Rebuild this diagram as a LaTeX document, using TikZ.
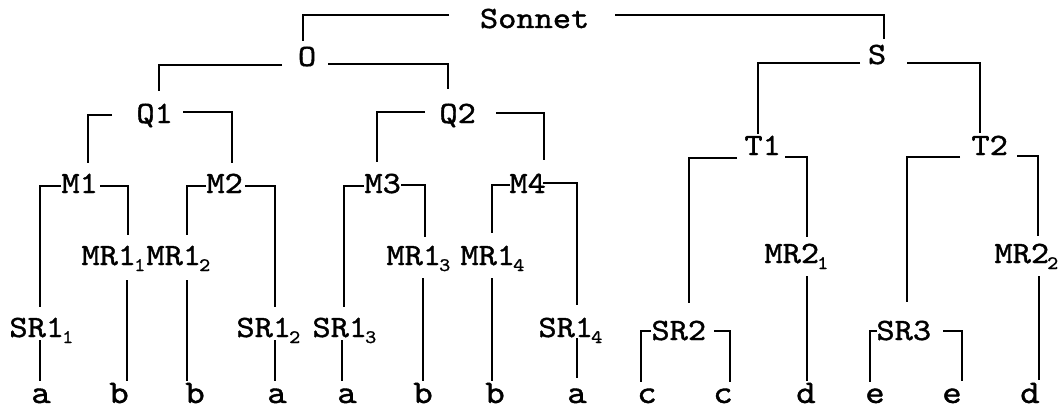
\documentclass[tikz,border=0pt]{standalone}
\usepackage{fontspec}
\usetikzlibrary{calc}
\newfontfamily\monofnt[FakeStretch=1.12,FakeBold=1.2]{lmmono10-regular.otf}
\newcommand\subs[1]{\kern-2pt\raisebox{-6pt}{\fontsize{19}{19}\selectfont #1}}
\newcommand\conn[4]{\draw ($(#1)+(#2)$) -| ($(#3)+(#4)$);}
\newcommand\vconn[4]{\draw ($(#1)+(#2)$) -- ($(#3)+(#4)$);}
\begin{document}
\begin{tikzpicture}[x=1pt,y=-1pt,
  lbl/.style={font=\monofnt\fontsize{31}{36}\selectfont, inner sep=0pt, text height=17pt, text depth=0pt, anchor=base west},
  leaf/.style={font=\monofnt\fontsize{33}{36}\selectfont, inner sep=0pt, text height=17pt, text depth=0pt, anchor=base},
  every path/.style={line width=1.9pt}]
\useasboundingbox (0,0) rectangle (1064,409);
% inner nodes
\node[lbl] (Sonnet) at (479,28) {Sonnet};
\node[lbl] (O) at (297,66) {O};
\node[lbl] (S) at (867,64) {S};
\node[lbl] (Q1) at (135.5,123) {Q1};
\node[lbl] (Q2) at (438.5,123) {Q2};
\node[lbl] (T1) at (743.5,155) {T1};
\node[lbl] (T2) at (970.5,155) {T2};
\node[lbl] (M1) at (60.5,193) {M1};
\node[lbl] (M2) at (205.5,193) {M2};
\node[lbl] (M3) at (363.5,193) {M3};
\node[lbl] (M4) at (508.5,193) {M4};
\node[lbl] (MRa) at (80.5,265) {MR1\subs{1}};
\node[lbl] (MRb) at (145.5,265) {MR1\subs{2}};
\node[lbl] (MRc) at (385.5,265) {MR1\subs{3}};
\node[lbl] (MRd) at (459.5,265) {MR1\subs{4}};
\node[lbl] (MRe) at (763.5,263) {MR2\subs{1}};
\node[lbl] (MRf) at (993.5,263) {MR2\subs{2}};
\node[lbl] (SRa) at (8.5,337) {SR1\subs{1}};
\node[lbl] (SRb) at (235.5,337) {SR1\subs{2}};
\node[lbl] (SRc) at (311.5,337) {SR1\subs{3}};
\node[lbl] (SRd) at (537.5,337) {SR1\subs{4}};
\node[lbl] (SR2) at (650.5,340) {SR2};
\node[lbl] (SR3) at (875.5,340) {SR3};
% leaves
\node[leaf] (la1) at (41,403) {a};
\node[leaf] (lb1) at (119,403) {b};
\node[leaf] (lb2) at (195,403) {b};
\node[leaf] (la2) at (277,403) {a};
\node[leaf] (la3) at (347,403) {a};
\node[leaf] (lb3) at (423,403) {b};
\node[leaf] (lb4) at (495,403) {b};
\node[leaf] (la4) at (577,403) {a};
\node[leaf] (lc1) at (647,403) {c};
\node[leaf] (lc2) at (723,403) {c};
\node[leaf] (ld1) at (806,403) {d};
\node[leaf] (le1) at (875,403) {e};
\node[leaf] (le2) at (952,403) {e};
\node[leaf] (ld2) at (1030,403) {d};
% brackets
\conn{Sonnet.base west}{-30,-13}{O.base west}{6,-25}
\conn{Sonnet.base west}{136,-13}{S.base west}{17,-25}
\conn{O.base west}{-15,-1}{Q1.base west}{23.5,-32}
\conn{O.base west}{31,-2}{Q2.base west}{9.5,-34}
\conn{Q1.base west}{-23.5,-8}{M1.base west}{27.5,-30}
\conn{Q1.base west}{47.5,-11}{M2.base west}{26.5,-30}
\conn{Q2.base west}{-13.5,-11}{M3.base west}{13.5,-31}
\conn{Q2.base west}{57.5,-10}{M4.base west}{35.5,-33}
\conn{S.base west}{-7,-1}{T1.base west}{14.5,-21}
\conn{S.base west}{40,-1}{T2.base west}{9.5,-22}
\conn{T1.base west}{-6.5,3}{SR2.base west}{38.5,-37}
\conn{T1.base west}{41.5,2}{MRe.base west}{43.5,-26}
\conn{T2.base west}{-10.5,2}{SR3.base west}{31.5,-38}
\conn{T2.base west}{46.5,1}{MRf.base west}{44.5,-27}
\conn{M1.base west}{0.5,-7}{SRa.base west}{31.5,-30}
\conn{M1.base west}{39.5,-7}{MRa.base west}{47.5,-30}
\conn{M2.base west}{0.5,-7}{MRb.base west}{41.5,-30}
\conn{M2.base west}{39.5,-7}{SRb.base west}{39.5,-30}
\conn{M3.base west}{0.5,-7}{SRc.base west}{32.5,-30}
\conn{M3.base west}{37.5,-8}{MRc.base west}{39.5,-28}
\conn{M4.base west}{1.5,-8}{MRd.base west}{32.5,-32}
\conn{M4.base west}{34.5,-10}{SRd.base west}{39.5,-32}
\conn{SR2.base west}{0.5,-9}{lc1.base}{-6,-21}
\conn{SR2.base west}{63.5,-9}{lc2.base}{7,-21}
\conn{SR3.base west}{1.5,-9}{le1.base}{-5,-21}
\conn{SR3.base west}{67.5,-9}{le2.base}{10,-22}
% leaf lines
\vconn{SRa.base west}{31.5,3}{la1.base}{-1,-22}
\vconn{MRa.base west}{46.5,15}{lb1.base}{8,-22}
\vconn{MRb.base west}{41.5,15}{lb2.base}{-8,-22}
\vconn{SRb.base west}{39.5,3}{la2.base}{-2,-22}
\vconn{SRc.base west}{30.5,3}{la3.base}{-5,-22}
\vconn{MRc.base west}{37.5,13}{lb3.base}{0,-22}
\vconn{MRd.base west}{32.5,13}{lb4.base}{-3,-22}
\vconn{SRd.base west}{39.5,1}{la4.base}{0,-25}
\vconn{MRe.base west}{43.5,13}{ld1.base}{1,-22}
\vconn{MRf.base west}{45.5,13}{ld2.base}{9,-23}
\end{tikzpicture}
\end{document}
